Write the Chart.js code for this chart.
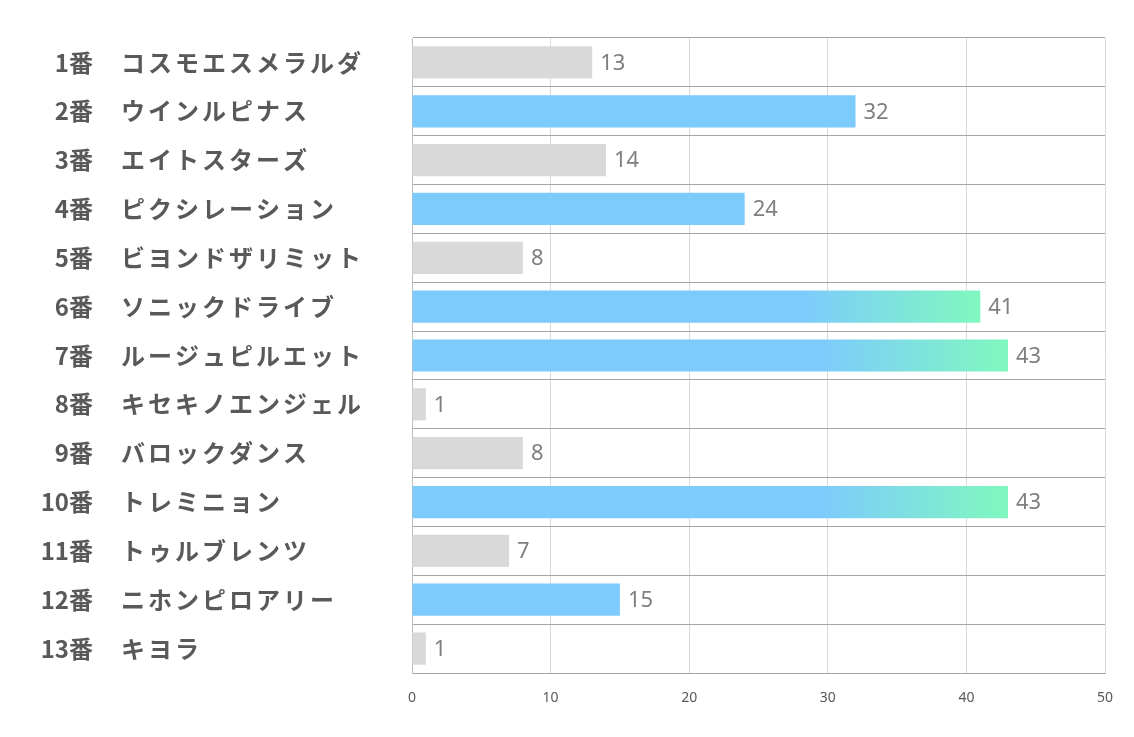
<!DOCTYPE html>
<html>
<head>
<meta charset="utf-8">
<script src="https://cdn.jsdelivr.net/npm/chart.js@4"></script>
<style>
  html, body { margin: 0; padding: 0; background: #fff; }
  #wrap { width: 1134px; height: 737px; }
</style>
</head>
<body>
<div id="wrap"><canvas id="chart"></canvas></div>
<script>
// horse numbers and names
var numbers = ["1番", "2番", "3番", "4番", "5番", "6番", "7番", "8番", "9番", "10番", "11番", "12番", "13番"];
var names = ["コスモエスメラルダ", "ウインルピナス", "エイトスターズ", "ピクシレーション", "ビヨンドザリミット",
  "ソニックドライブ", "ルージュピルエット", "キセキノエンジェル", "バロックダンス", "トレミニョン",
  "トゥルブレンツ", "ニホンピロアリー", "キヨラ"];
var values = [13, 32, 14, 24, 8, 41, 43, 1, 8, 43, 7, 15, 1];
// bar style per horse: grey / blue / grad (blue fading to green)
var kinds = ["grey", "blue", "grey", "blue", "grey", "grad", "grad", "grey", "grey", "grad", "grey", "blue", "grey"];
var xTicks = [0, 10, 20, 30, 40, 50];

var GREY = "#d9d9d9", BLUE = "#7dcafd", GREEN = "#80f8bf";

function barColor(ctx) {
    var kind = kinds[ctx.dataIndex];
    if (kind === "grey") return GREY;
    if (kind === "blue") return BLUE;
    var chart = ctx.chart;
    if (!chart.chartArea) return BLUE;
    var x = chart.scales.x;
    var x0 = x.getPixelForValue(0);
    var x1 = x.getPixelForValue(values[ctx.dataIndex]);
    var g = chart.ctx.createLinearGradient(x0, 0, x1, 0);
    g.addColorStop(0, BLUE);
    g.addColorStop(0.68, BLUE);
    g.addColorStop(1, GREEN);
    return g;
}

// row labels on the left and value labels at bar ends
var labelPlugin = {
    id: "labels",
    afterDatasetsDraw: function(chart) {
        var c = chart.ctx;
        var y = chart.scales.y;
        var meta = chart.getDatasetMeta(0);
        c.save();
        c.textBaseline = "middle";
        for (var i = 0; i < names.length; i++) {
            var py = y.getPixelForValue(i);
            c.fillStyle = "#595959";
            c.font = "bold 24px 'Noto Sans CJK JP'";
            c.letterSpacing = "0px";
            c.textAlign = "right";
            c.fillText(numbers[i], 93, py);
            c.textAlign = "left";
            c.letterSpacing = "3px";
            c.fillText(names[i], 121, py);

            c.letterSpacing = "0px";
            c.fillStyle = "#7f7f7f";
            c.font = "22px 'Noto Sans'";
            c.fillText(String(values[i]), meta.data[i].x + 8, py + 1);
        }
        c.restore();
    }
};

new Chart(document.getElementById("chart"), {
    type: "bar",
    data: {
        labels: names,
        datasets: [{
            data: values,
            backgroundColor: barColor,
            borderWidth: 0,
            barPercentage: 0.66,
            categoryPercentage: 1
        }]
    },
    plugins: [labelPlugin],
    options: {
        indexAxis: "y",
        responsive: true,
        maintainAspectRatio: false,
        animation: false,
        layout: { padding: { top: 38, right: 29, left: 0, bottom: 0 } },
        plugins: { legend: { display: false }, tooltip: { enabled: false } },
        scales: {
            x: {
                min: 0,
                max: 50,
                afterBuildTicks: function(scale) {
                    scale.ticks = xTicks.map(function(v) { return { value: v }; });
                },
                afterFit: function(scale) { scale.height = 64; },
                grid: { color: "#d9d9d9", drawTicks: false },
                border: { color: "#a6a6a6" },
                ticks: { padding: 17, color: "#595959", font: { family: "'Noto Sans'", size: 14 } }
            },
            y: {
                afterFit: function(scale) { scale.width = 412; },
                grid: { color: "#a6a6a6", drawTicks: false, offset: true },
                border: { color: "#bfbfbf" },
                ticks: { display: false }
            }
        }
    }
});
</script>
</body>
</html>
